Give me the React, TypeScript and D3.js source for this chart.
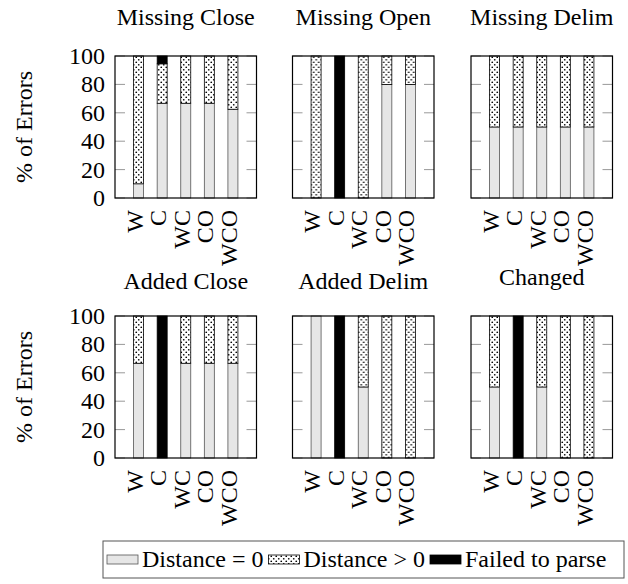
import React, { useLayoutEffect, useRef, useState } from "react"
import * as d3 from "d3"

// categories and panel titles
const configs = ["W", "C", "WC", "CO", "WCO"]
const titles = ["Missing Close", "Missing Open", "Missing Delim", "Added Close", "Added Delim", "Changed"]

// % of errors per panel, one value per config
const distZero = [
  [10, 66.7, 66.7, 66.7, 62.5],
  [0, 0, 0, 80, 80],
  [50, 50, 50, 50, 50],
  [66.7, 0, 66.7, 66.7, 66.7],
  [100, 0, 50, 0, 0],
  [50, 0, 50, 0, 0],
]
const distPos = [
  [90, 27.8, 33.3, 33.3, 37.5],
  [100, 0, 100, 20, 20],
  [50, 50, 50, 50, 50],
  [33.3, 0, 33.3, 33.3, 33.3],
  [0, 0, 50, 100, 100],
  [50, 0, 50, 100, 100],
]
const failed = [
  [0, 5.5, 0, 0, 0],
  [0, 100, 0, 0, 0],
  [0, 0, 0, 0, 0],
  [0, 100, 0, 0, 0],
  [0, 100, 0, 0, 0],
  [0, 100, 0, 0, 0],
]
const yTicks = [0, 20, 40, 60, 80, 100]
const legendLabels = ["Distance = 0", "Distance > 0", "Failed to parse"]

const font = "'Liberation Serif', 'DejaVu Serif', 'Noto Serif', 'Times New Roman', Times, serif"
const keys = ["zero", "pos", "fail"]
const fills = ["#e6e6e6", "url(#dots)", "#000"]
const strokes = ["#555", "#000", "#000"]

const panelW = 141.5
const panelH = 142
const lefts = [115, 292.5, 471]
const tops = [56, 316]

const Panel: React.FC<{ idx: number }> = ({ idx }) => {
  const col = idx % 3
  const row = Math.floor(idx / 3)
  const x0 = lefts[col]
  const y0 = tops[row]
  const x = d3.scalePoint<string>().domain(configs).range([0, panelW]).padding(1)
  const y = d3.scaleLinear().domain([0, 100]).range([panelH, 0])
  const rows = configs.map((c, i) => ({ c, zero: distZero[idx][i], pos: distPos[idx][i], fail: failed[idx][i] }))
  const series = d3.stack<any>().keys(keys)(rows)
  const bw = 10
  const title = titles[idx]
  const hasDesc = /[gjpqy]/.test(title)
  return (
    <g transform={`translate(${x0},${y0})`}>
      <text x={panelW / 2} y={hasDesc ? -31 : -27} textAnchor="middle" fontSize={24}>
        {title}
      </text>
      {series.map((s, si) =>
        s.map((d, i) =>
          d[1] - d[0] > 0 ? (
            <rect
              key={`${si}-${i}`}
              x={(x(configs[i]) ?? 0) - bw / 2}
              y={y(d[1])}
              width={bw}
              height={y(d[0]) - y(d[1])}
              fill={fills[si]}
              stroke={strokes[si]}
              strokeWidth={0.8}
            />
          ) : null,
        ),
      )}
      {yTicks.map((t) => (
        <g key={t}>
          <line x1={0} x2={10} y1={y(t)} y2={y(t)} stroke="#999" strokeWidth={1} />
          <line x1={panelW - 10} x2={panelW} y1={y(t)} y2={y(t)} stroke="#999" strokeWidth={1} />
          {col === 0 ? (
            <text x={-10} y={y(t) + 8} textAnchor="end" fontSize={24}>
              {t}
            </text>
          ) : null}
        </g>
      ))}
      <rect x={0} y={0} width={panelW} height={panelH} fill="none" stroke="#000" strokeWidth={1.2} />
      {configs.map((c) => (
        <text
          key={c}
          transform={`translate(${(x(c) ?? 0) + 4},${panelH + 12}) rotate(-90)`}
          textAnchor="end"
          fontSize={24}
        >
          {c}
        </text>
      ))}
      {col === 0 ? (
        <text transform={`translate(${32 - x0},${panelH / 2}) rotate(-90)`} textAnchor="middle" fontSize={24}>
          % of Errors
        </text>
      ) : null}
    </g>
  )
}

const App: React.FC = () => {
  const textRefs = useRef<(SVGTextElement | null)[]>([])
  const [widths, setWidths] = useState<number[]>([120, 101, 171])

  // lay out legend entries from measured text widths
  useLayoutEffect(() => {
    const w = textRefs.current.map((t) => (t ? t.getComputedTextLength() : 0))
    if (w.every((v) => v > 0)) setWidths(w)
  }, [])

  let cursor = 107
  const items = legendLabels.map((l, i) => {
    const sx = cursor
    const tx = sx + 35
    cursor = tx + widths[i] + 5
    return { l, sx, tx }
  })

  return (
    <svg
      width={628}
      height={584}
      style={{ position: "absolute", left: 0, top: 0, background: "#fff", fontFamily: font }}
    >
      <defs>
        <pattern id="dots" width={5} height={5} patternUnits="userSpaceOnUse">
          <rect width={5} height={5} fill="#fff" />
          <circle cx={1.25} cy={1.25} r={0.85} fill="#000" />
          <circle cx={3.75} cy={3.75} r={0.85} fill="#000" />
        </pattern>
      </defs>
      <rect width={628} height={584} fill="#fff" />
      {titles.map((t, i) => (
        <Panel key={t} idx={i} />
      ))}
      <rect x={103} y={541} width={521} height={37} fill="#fff" stroke="#555" strokeWidth={1} />
      {items.map((it, i) => (
        <g key={it.l}>
          <rect x={it.sx} y={555} width={31} height={9} fill={fills[i]} stroke={strokes[i]} strokeWidth={0.8} />
          <text
            ref={(el) => {
              textRefs.current[i] = el
            }}
            x={it.tx}
            y={567}
            fontSize={24}
          >
            {it.l}
          </text>
        </g>
      ))}
    </svg>
  )
}

export default App
